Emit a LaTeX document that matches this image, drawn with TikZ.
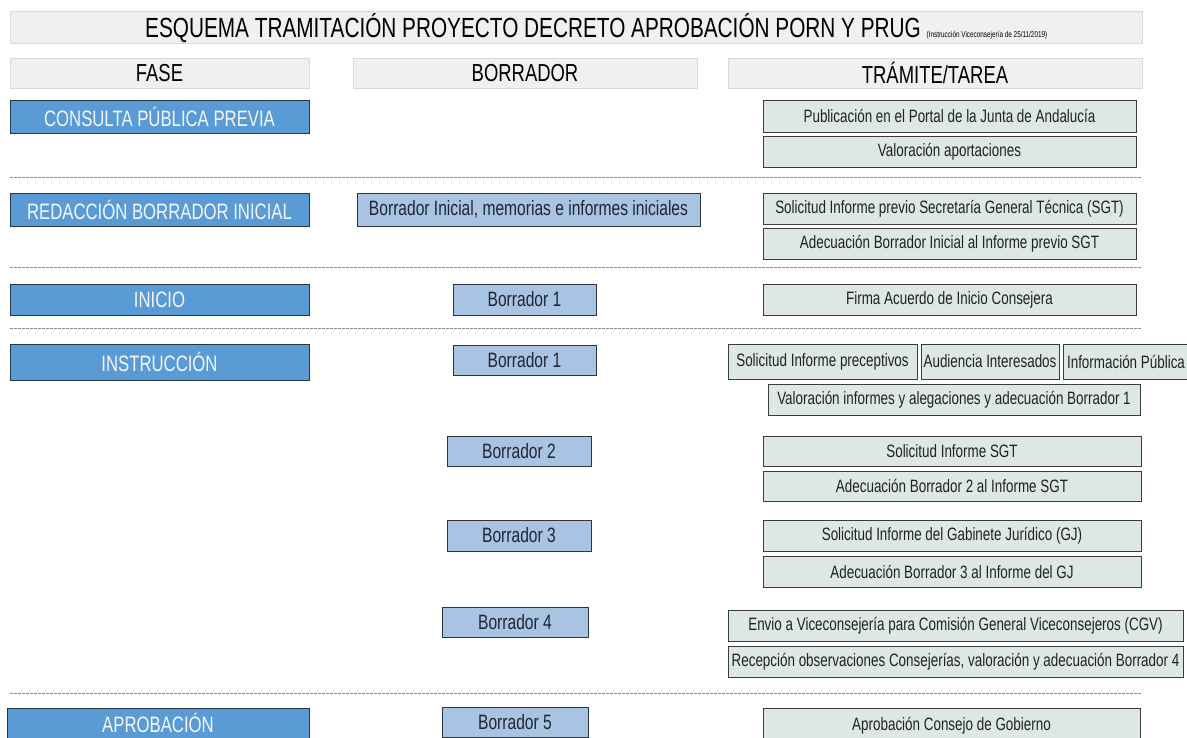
\documentclass[tikz,border=0pt]{standalone}
\usepackage{fontspec}
\setmainfont{Liberation Sans}[FakeStretch=0.75]
\definecolor{hdrfill}{HTML}{F0F0F0}
\definecolor{hdrdraw}{HTML}{D9D9D9}
\definecolor{fasefill}{HTML}{5B9BD5}
\definecolor{fasedraw}{HTML}{2A3542}
\definecolor{fasetext}{HTML}{F2F7FC}
\definecolor{borfill}{HTML}{A9C3E3}
\definecolor{bordraw}{HTML}{2E3440}
\definecolor{bortext}{HTML}{1E2733}
\definecolor{trafill}{HTML}{DDE7E6}
\definecolor{tradraw}{HTML}{3C3C3C}
\definecolor{tratext}{HTML}{222222}
\definecolor{sepcol}{HTML}{8A8A8A}
\newcommand\bsz[1]{\fontsize{#1}{#1}\selectfont}
\tikzset{
  box/.style={anchor=north west, inner sep=0pt, outer sep=0pt, align=center},
  hdrbox/.style={box, fill=hdrfill, draw=hdrdraw, line width=0.8pt, font=\bsz{24.6}},
  titlebox/.style={box, fill=hdrfill, draw=hdrdraw, line width=0.8pt},
  fasebox/.style={box, fill=fasefill, draw=fasedraw, line width=1pt, text=fasetext, font=\bsz{22.3}},
  borbox/.style={box, fill=borfill, draw=bordraw, line width=1pt, text=bortext, font=\bsz{20.8}},
  trabox/.style={box, fill=trafill, draw=tradraw, line width=0.9pt, text=tratext, font=\bsz{17.9}},
  sepline/.style={draw=sepcol, line width=0.6pt, dash pattern=on 3pt off 1pt},
}
\begin{document}
\begin{tikzpicture}[x=1pt,y=-1pt]
\useasboundingbox[fill=white] (0,0) rectangle (1187,737);
% title
\node[titlebox, minimum width=1132pt, minimum height=32pt] (tt) at (10,11) {};
\node[anchor=base west, inner sep=0pt] (ttx) at (145,37) {\bsz{27.7}ESQUEMA TRAMITACIÓN PROYECTO DECRETO APROBACIÓN PORN Y PRUG \bsz{8.5}(Instrucción Viceconsejería de 25/11/2019)};
% headers
\node[hdrbox, minimum width=299pt, minimum height=30pt] (hf) at (10,58) {FASE};
\node[hdrbox, minimum width=344pt, minimum height=30pt] (hb) at (353,58) {BORRADOR};
\node[hdrbox, minimum width=414pt, minimum height=30pt] (ht) at (728,58) {TRÁMITE/TAREA};
% fases
\node[fasebox, minimum width=299pt, minimum height=33pt] (f1) at (10,100) {CONSULTA PÚBLICA PREVIA};
\node[fasebox, minimum width=299pt, minimum height=33pt] (f2) at (10,193) {REDACCIÓN BORRADOR INICIAL};
\node[fasebox, minimum width=299pt, minimum height=31pt] (f3) at (10,284) {INICIO};
\node[fasebox, minimum width=299pt, minimum height=36pt] (f4) at (10,344) {INSTRUCCIÓN};
\node[fasebox, minimum width=302pt, minimum height=30pt] (f5) at (7,708) {APROBACIÓN};
% borradores
\node[borbox, minimum width=343pt, minimum height=33pt] (b0) at (357,193) {Borrador Inicial, memorias e informes iniciales};
\node[borbox, minimum width=143pt, minimum height=31pt] (b1a) at (453,284) {Borrador 1};
\node[borbox, minimum width=143pt, minimum height=30pt] (b1b) at (453,345) {Borrador 1};
\node[borbox, minimum width=144pt, minimum height=30pt] (b2) at (447,436) {Borrador 2};
\node[borbox, minimum width=144pt, minimum height=31pt] (b3) at (447,520) {Borrador 3};
\node[borbox, minimum width=146pt, minimum height=30pt] (b4) at (442,607) {Borrador 4};
\node[borbox, minimum width=146pt, minimum height=30pt] (b5) at (442,707) {Borrador 5};
% tramites
\node[trabox, minimum width=373pt, minimum height=32pt] (t1) at (763,100) {Publicación en el Portal de la Junta de Andalucía};
\node[trabox, minimum width=373pt, minimum height=31pt] (t2) at (763,136) {Valoración aportaciones};
\node[trabox, minimum width=373pt, minimum height=31pt] (t3) at (763,193) {Solicitud Informe previo Secretaría General Técnica (SGT)};
\node[trabox, minimum width=373pt, minimum height=31pt] (t4) at (763,228) {Adecuación Borrador Inicial al Informe previo SGT};
\node[trabox, minimum width=373pt, minimum height=31pt] (t5) at (763,284) {Firma Acuerdo de Inicio Consejera};
\node[trabox, minimum width=189pt, minimum height=35pt] (t6) at (728,344) {Solicitud Informe preceptivos};
\node[trabox, minimum width=138pt, minimum height=35pt] (t7) at (921,344) {Audiencia Interesados};
\node[trabox, minimum width=126pt, minimum height=35pt] (t8) at (1063,344) {Información Pública};
\node[trabox, minimum width=372pt, minimum height=31pt] (t9) at (768,384) {Valoración informes y alegaciones y adecuación Borrador 1};
\node[trabox, minimum width=378pt, minimum height=30pt] (t10) at (763,436) {Solicitud Informe SGT};
\node[trabox, minimum width=378pt, minimum height=30pt] (t11) at (763,471) {Adecuación Borrador 2 al Informe SGT};
\node[trabox, minimum width=378pt, minimum height=31pt] (t12) at (763,520) {Solicitud Informe del Gabinete Jurídico (GJ)};
\node[trabox, minimum width=378pt, minimum height=31pt] (t13) at (763,556) {Adecuación Borrador 3 al Informe del GJ};
\node[trabox, minimum width=455pt, minimum height=31pt] (t14) at (728,610) {Envio a Viceconsejería para Comisión General Viceconsejeros (CGV)};
\node[trabox, minimum width=455pt, minimum height=31pt] (t15) at (728,646) {Recepción observaciones Consejerías, valoración y adecuación Borrador 4};
\node[trabox, minimum width=377pt, minimum height=36pt] (t16) at (763,708) {Aprobación Consejo de Gobierno};
% separators
\foreach \yy/\nm in {177/s1, 267/s2, 328/s3, 693/s4}{
  \coordinate (\nm a) at (10,\yy);
  \coordinate (\nm b) at (1142,\yy);
  \draw[sepline] (\nm a) -- (\nm b);
}
\end{tikzpicture}
\end{document}
